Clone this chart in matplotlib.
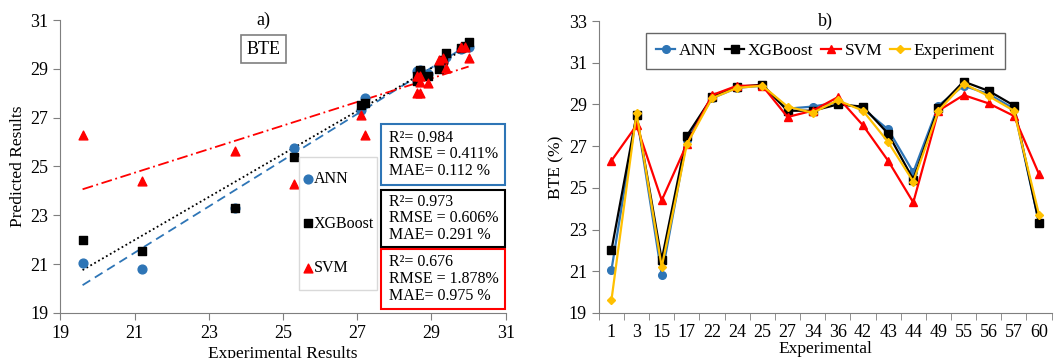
import matplotlib
matplotlib.use('Agg')
import matplotlib.pyplot as plt
from matplotlib.patches import Rectangle
import numpy as np

plt.rcParams['font.family'] = ['Liberation Serif', 'DejaVu Serif']

# Experimental runs and BTE (%) values
runs = ['1', '3', '15', '17', '22', '24', '25', '27', '34', '36',
        '42', '43', '44', '49', '55', '56', '57', '60']
experiment = [19.6, 28.6, 21.2, 27.1, 29.3, 29.8, 29.9, 28.9, 28.6, 29.2,
              28.7, 27.2, 25.3, 28.7, 30.0, 29.4, 28.7, 23.7]
ann = [21.05, 28.5, 20.8, 27.3, 29.3, 29.8, 29.9, 28.8, 28.9, 29.1,
       28.8, 27.8, 25.75, 28.95, 29.9, 29.5, 28.8, 23.3]
xgboost = [22.0, 28.5, 21.55, 27.5, 29.35, 29.85, 29.95, 28.7, 28.7, 29.0,
           28.9, 27.6, 25.4, 28.85, 30.1, 29.65, 28.95, 23.3]
svm = [26.3, 28.0, 24.4, 27.1, 29.45, 29.9, 29.9, 28.4, 28.7, 29.35,
       28.0, 26.3, 24.3, 28.7, 29.45, 29.05, 28.45, 25.65]

stat_text = ['R\u00b2= 0.984\nRMSE = 0.411%\nMAE= 0.112 %',
             'R\u00b2= 0.973\nRMSE = 0.606%\nMAE= 0.291 %',
             'R\u00b2= 0.676\nRMSE = 1.878%\nMAE= 0.975 %']

c_ann = '#2E75B6'
c_xgb = 'black'
c_svm = '#FF0000'
c_exp = '#FFC000'
axis_col = '#7f7f7f'
fs = 13

fig = plt.figure(figsize=(10.58, 3.58), dpi=100)

# ---- a) predicted vs experimental
ax1 = fig.add_axes([0.057, 0.126, 0.421, 0.818])
exp = np.array(experiment)
h1 = ax1.scatter(exp, ann, color=c_ann, marker='o', s=40, zorder=3, label='ANN')
h2 = ax1.scatter(exp, xgboost, color=c_xgb, marker='s', s=40, zorder=3, label='XGBoost')
h3 = ax1.scatter(exp, svm, color=c_svm, marker='^', s=40, zorder=3, label='SVM')

xl = np.array([exp.min(), exp.max()])
for vals, col, ls in [(ann, c_ann, (0, (5, 3))), (xgboost, c_xgb, (0, (1, 1.5))),
                      (svm, c_svm, (0, (6, 2, 1, 2)))]:
    p = np.polyfit(exp, vals, 1)
    ax1.plot(xl, np.polyval(p, xl), color=col, linestyle=ls, linewidth=1.3, zorder=2)

ax1.set_xlim(19, 31)
ax1.set_ylim(19, 31)
ax1.set_xticks(np.arange(19, 32, 2))
ax1.set_yticks(np.arange(19, 32, 2))
ax1.tick_params(direction='out', length=5, color=axis_col, labelsize=fs)
for s in ['top', 'right']:
    ax1.spines[s].set_visible(False)
for s in ['left', 'bottom']:
    ax1.spines[s].set_color(axis_col)
ax1.set_xlabel('Experimental Results', fontsize=12.5, labelpad=3)
ax1.set_ylabel('Predicted Results', fontsize=12.5, labelpad=3)
ax1.text(0.457, 1.0, 'a)', transform=ax1.transAxes, ha='center', va='center', fontsize=13)
ax1.text(0.457, 0.9, 'BTE', transform=ax1.transAxes, ha='center', va='center',
         fontsize=13, bbox=dict(boxstyle='square,pad=0.3', fc='white', ec=axis_col, lw=1.2))

# legend with its own frame
ax1.add_patch(Rectangle((0.536, 0.078), 0.175, 0.454, transform=ax1.transAxes,
                        fc='white', ec='#d9d9d9', lw=1.0, zorder=4))
leg1 = ax1.legend(handles=[h1, h2, h3], loc='center', bbox_to_anchor=(0.6235, 0.305),
                  fontsize=11.5, frameon=False, labelspacing=1.8, handletextpad=0.0,
                  handlelength=0.7, borderpad=0, borderaxespad=0, scatterpoints=1)
leg1.set_zorder(5)

# stat boxes: (bottom, top) in axes fraction
box_y = [(0.437, 0.645), (0.225, 0.42), (0.014, 0.218)]
box_c = [c_ann, c_xgb, c_svm]
for txt, (y0, y1), col in zip(stat_text, box_y, box_c):
    ax1.add_patch(Rectangle((0.72, y0), 0.278, y1 - y0, transform=ax1.transAxes,
                            fc='white', ec=col, lw=1.5, zorder=6, clip_on=False))
    ax1.text(0.737, (y0 + y1) / 2, txt, transform=ax1.transAxes, ha='left', va='center',
             fontsize=11.5, linespacing=1.05, zorder=7)

# ---- b) comparison per run
ax2 = fig.add_axes([0.566, 0.126, 0.428, 0.815])
xs = np.arange(len(runs))
ax2.plot(xs, ann, color=c_ann, marker='o', markersize=5.5, linewidth=1.6, label='ANN')
ax2.plot(xs, xgboost, color=c_xgb, marker='s', markersize=5.5, linewidth=1.6, label='XGBoost')
ax2.plot(xs, svm, color=c_svm, marker='^', markersize=5.5, linewidth=1.6, label='SVM')
ax2.plot(xs, experiment, color=c_exp, marker='D', markersize=4.5, linewidth=1.6, label='Experiment')

ax2.set_xlim(-0.5, len(runs) - 0.5)
ax2.set_ylim(19, 33)
ax2.set_yticks(np.arange(19, 34, 2))
ax2.set_xticks(xs)
ax2.set_xticklabels(runs)
ax2.set_xticks(np.arange(-0.5, len(runs), 1), minor=True)
ax2.tick_params(axis='x', which='major', length=0, labelsize=fs, pad=8)
ax2.tick_params(axis='x', which='minor', direction='out', length=5, color=axis_col)
ax2.tick_params(axis='y', direction='out', length=5, color=axis_col, labelsize=fs)
for s in ['top', 'right']:
    ax2.spines[s].set_visible(False)
for s in ['left', 'bottom']:
    ax2.spines[s].set_color(axis_col)
ax2.set_xlabel('Experimental', fontsize=12.5, labelpad=0)
ax2.set_ylabel('BTE (%)', fontsize=12.5, labelpad=3)
ax2.text(0.5, 1.0, 'b)', transform=ax2.transAxes, ha='center', va='center', fontsize=13)
leg2 = ax2.legend(loc='upper center', bbox_to_anchor=(0.5, 0.958), ncol=4, fontsize=12.5,
                  frameon=True, fancybox=False, edgecolor='#404040', handlelength=1.15,
                  handletextpad=0.2, columnspacing=0.45, borderpad=0.55, borderaxespad=0)
leg2.get_frame().set_linewidth(1.0)

fig.savefig('out.png', dpi=100)
